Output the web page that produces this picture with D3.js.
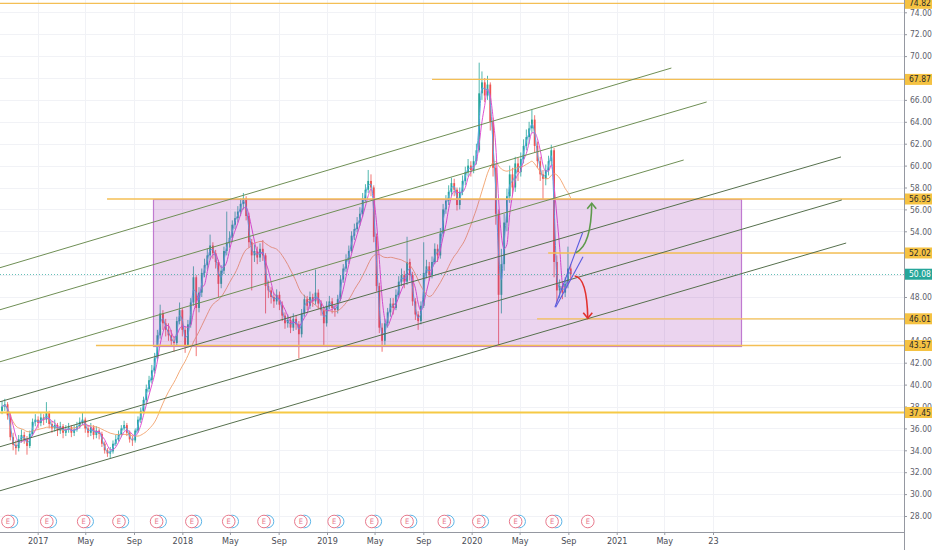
<!DOCTYPE html>
<html>
<head>
<meta charset="utf-8">
<script src="https://cdn.jsdelivr.net/npm/d3@7/dist/d3.min.js"></script>
<style>
  html, body { margin: 0; padding: 0; background: #fff; }
  svg { display: block; }
  text { font-family: "Liberation Sans Narrow", "DejaVu Sans Condensed", "Liberation Sans", sans-serif; }
</style>
</head>
<body>
<svg id="chart" width="932" height="550"></svg>
<script>
// weekly candles, first week starts on this monday
const firstWeek = "2016-10-03";

const open = [
  37.6, 38.0, 38.2, 37.2, 35.2, 34.5, 34.2, 35.0, 35.4, 35.0,
  34.4, 35.5, 36.6, 36.8, 36.5, 37.0, 36.8, 37.4, 36.4, 36.0,
  36.3, 35.8, 36.2, 35.6, 35.9, 36.1, 35.6, 35.9, 36.2, 36.6,
  36.8, 36.0, 35.6, 36.1, 35.4, 35.8, 35.5, 34.6, 34.0, 33.7,
  33.9, 34.6, 35.0, 35.4, 36.0, 36.3, 35.6, 35.0, 34.9, 35.8,
  36.8, 37.6, 38.6, 39.6, 40.4, 41.3, 42.4, 44.5, 46.5, 45.6,
  45.0, 44.5, 44.0, 43.8, 45.8, 46.8, 45.0, 43.6, 45.5, 47.5,
  49.8, 47.0, 48.4, 50.2, 50.9, 51.8, 52.7, 52.0, 51.2, 49.2,
  50.4, 52.2, 53.0, 53.4, 54.6, 55.2, 55.8, 56.5, 57.0, 55.4,
  53.0, 51.8, 52.2, 51.6, 52.4, 51.8, 49.0, 48.6, 48.0, 47.6,
  48.2, 47.3, 46.3, 45.6, 45.9, 45.2, 46.0, 45.5, 44.6, 46.5,
  47.8, 47.2, 48.0, 47.6, 48.4, 47.4, 46.8, 45.6, 47.2, 47.6,
  47.0, 46.8, 47.8, 49.6, 50.6, 51.4, 52.2, 53.6, 54.2, 54.8,
  55.6, 57.0, 57.8, 58.6, 58.0, 53.5, 49.0, 45.2, 44.0, 45.6,
  46.6, 47.4, 47.0, 48.2, 49.4, 50.0, 49.4, 51.2, 50.0, 47.6,
  46.4, 45.8, 47.2, 50.2, 50.8, 50.0, 51.2, 52.4, 51.8, 53.8,
  56.0, 56.8, 57.6, 58.4, 57.8, 56.4, 57.6, 58.6, 59.4, 60.0,
  59.6, 60.4, 61.4, 66.6, 67.6, 66.4, 67.4, 64.0, 59.8, 55.6,
  48.2, 51.0, 54.8, 57.2, 59.2, 58.0, 60.2, 59.4, 60.6, 61.8,
  62.6, 63.4, 64.2, 61.8, 60.4, 59.2, 58.8, 59.6, 60.4, 61.4,
  51.2, 48.6, 49.0, 48.4, 49.2, 50.6
];

const high = [
  38.5, 38.7, 38.4, 37.4, 35.6, 34.9, 35.4, 35.9, 35.7, 35.3,
  35.8, 36.9, 37.3, 37.1, 37.4, 37.3, 38.4, 37.6, 36.7, 36.8,
  36.5, 36.6, 36.4, 36.3, 36.5, 36.3, 36.3, 36.6, 37.0, 37.5,
  37.0, 36.3, 36.5, 36.3, 36.2, 36.0, 35.7, 34.8, 34.2, 34.3,
  34.9, 35.4, 35.8, 36.3, 36.7, 36.5, 35.8, 35.3, 36.0, 37.1,
  37.9, 38.9, 40.0, 40.8, 41.8, 42.9, 45.0, 47.3, 46.8, 46.0,
  45.6, 45.0, 44.4, 46.2, 47.5, 47.0, 45.3, 45.9, 47.9, 50.8,
  50.0, 48.9, 50.6, 51.5, 52.4, 53.7, 53.0, 52.3, 51.4, 50.9,
  52.6, 55.8, 54.0, 55.0, 55.8, 56.3, 57.0, 57.5, 57.2, 55.7,
  53.3, 52.8, 52.6, 52.9, 53.2, 52.0, 49.5, 48.9, 48.4, 48.7,
  48.5, 47.6, 46.6, 46.4, 46.2, 46.5, 46.3, 45.8, 46.9, 48.2,
  48.1, 48.5, 48.3, 50.5, 48.7, 47.7, 47.0, 47.6, 48.1, 47.9,
  47.3, 48.2, 50.0, 51.0, 51.9, 52.7, 54.0, 54.7, 55.3, 56.2,
  57.5, 58.3, 59.6, 59.2, 58.2, 53.8, 49.3, 45.6, 46.0, 47.0,
  47.9, 47.9, 48.7, 49.9, 50.6, 50.4, 53.5, 51.5, 50.3, 47.9,
  46.7, 47.6, 53.0, 51.4, 51.2, 51.7, 52.9, 52.8, 54.3, 56.5,
  57.3, 58.2, 58.9, 58.8, 58.0, 58.0, 59.1, 59.9, 60.6, 60.4,
  60.9, 62.0, 69.4, 68.6, 68.0, 68.2, 67.6, 64.4, 60.2, 56.0,
  52.4, 55.6, 57.9, 60.0, 59.8, 60.8, 60.7, 61.2, 62.4, 63.3,
  64.0, 65.1, 64.6, 62.2, 60.8, 59.6, 60.1, 60.9, 61.9, 61.6,
  51.8, 49.6, 49.4, 49.8, 52.6, 51.0
];

const low = [
  37.3, 37.6, 36.8, 34.9, 34.0, 33.6, 33.9, 34.7, 34.6, 33.6,
  34.2, 35.3, 36.2, 36.0, 36.2, 36.3, 36.5, 36.0, 35.6, 35.7,
  35.3, 35.5, 35.1, 35.3, 35.6, 35.2, 35.3, 35.7, 36.0, 36.3,
  35.6, 35.2, 35.3, 35.0, 35.1, 35.0, 34.3, 33.7, 33.4, 33.3,
  33.7, 34.4, 34.8, 35.2, 35.8, 35.3, 34.7, 34.4, 34.7, 35.6,
  36.5, 37.4, 38.3, 39.3, 40.1, 41.0, 42.2, 44.2, 45.0, 44.4,
  44.0, 43.5, 43.0, 43.6, 45.5, 44.4, 42.9, 43.4, 45.2, 47.2,
  42.6, 46.6, 48.0, 49.8, 50.5, 51.4, 51.5, 50.6, 48.0, 48.8,
  50.1, 51.8, 52.5, 53.0, 54.2, 54.8, 55.4, 56.0, 55.0, 52.5,
  48.6, 51.2, 51.0, 51.2, 51.3, 46.5, 47.9, 47.4, 47.0, 47.3,
  46.8, 45.8, 45.1, 45.2, 44.7, 44.9, 45.0, 42.4, 44.3, 46.2,
  46.8, 46.9, 47.1, 47.3, 46.9, 46.3, 43.6, 45.3, 46.9, 46.5,
  46.2, 46.5, 47.6, 49.3, 50.3, 51.0, 52.0, 53.2, 53.9, 54.5,
  55.3, 56.7, 57.5, 57.2, 53.0, 48.5, 44.7, 43.0, 43.6, 45.2,
  46.2, 46.4, 46.8, 47.9, 49.0, 48.8, 49.1, 49.5, 47.2, 45.9,
  45.0, 45.5, 47.0, 49.7, 49.5, 49.7, 51.0, 51.2, 51.5, 53.5,
  55.6, 56.4, 57.2, 57.2, 55.9, 56.0, 57.3, 58.2, 59.0, 59.0,
  59.3, 60.1, 61.2, 66.0, 65.8, 66.0, 63.2, 59.0, 54.6, 43.6,
  46.5, 50.4, 54.0, 56.6, 57.2, 57.6, 58.6, 59.0, 60.2, 61.4,
  62.0, 63.0, 61.2, 59.8, 58.6, 56.9, 58.2, 59.1, 60.0, 49.8,
  47.4, 47.9, 47.8, 48.0, 48.8, 49.6
];

const close = [
  38.0, 38.2, 37.2, 35.2, 34.5, 34.2, 35.0, 35.4, 35.0, 34.4,
  35.5, 36.6, 36.8, 36.5, 37.0, 36.8, 37.4, 36.4, 36.0, 36.3,
  35.8, 36.2, 35.6, 35.9, 36.1, 35.6, 35.9, 36.2, 36.6, 36.8,
  36.0, 35.6, 36.1, 35.4, 35.8, 35.5, 34.6, 34.0, 33.7, 33.9,
  34.6, 35.0, 35.4, 36.0, 36.3, 35.6, 35.0, 34.9, 35.8, 36.8,
  37.6, 38.6, 39.6, 40.4, 41.3, 42.4, 44.5, 46.5, 45.6, 45.0,
  44.5, 44.0, 43.8, 45.8, 46.8, 45.0, 43.6, 45.5, 47.5, 49.8,
  47.0, 48.4, 50.2, 50.9, 51.8, 52.7, 52.0, 51.2, 49.2, 50.4,
  52.2, 53.0, 53.4, 54.6, 55.2, 55.8, 56.5, 57.0, 55.4, 53.0,
  51.8, 52.2, 51.6, 52.4, 51.8, 49.0, 48.6, 48.0, 47.6, 48.2,
  47.3, 46.3, 45.6, 45.9, 45.2, 46.0, 45.5, 44.6, 46.5, 47.8,
  47.2, 48.0, 47.6, 48.4, 47.4, 46.8, 45.6, 47.2, 47.6, 47.0,
  46.8, 47.8, 49.6, 50.6, 51.4, 52.2, 53.6, 54.2, 54.8, 55.6,
  57.0, 57.8, 58.6, 58.0, 53.5, 49.0, 45.2, 44.0, 45.6, 46.6,
  47.4, 47.0, 48.2, 49.4, 50.0, 49.4, 51.2, 50.0, 47.6, 46.4,
  45.8, 47.2, 50.2, 50.8, 50.0, 51.2, 52.4, 51.8, 53.8, 56.0,
  56.8, 57.6, 58.4, 57.8, 56.4, 57.6, 58.6, 59.4, 60.0, 59.6,
  60.4, 61.4, 66.6, 67.6, 66.4, 67.4, 64.0, 59.8, 55.6, 48.2,
  51.0, 54.8, 57.2, 59.2, 58.0, 60.2, 59.4, 60.6, 61.8, 62.6,
  63.4, 64.2, 61.8, 60.4, 59.2, 58.8, 59.6, 60.4, 61.4, 51.2,
  48.6, 49.0, 48.4, 49.2, 50.6, 50.08
];

const lastPrice = 50.08;

// moving averages drawn on the chart (weeks) and their colours
const maPeriods = [20, 4, 2];
const maColors = ["#f2a06a", "#e052d2", "#5aa9e6"];

// horizontal levels
const levelPrices = [74.82, 67.87, 56.95, 52.02, 46.01, 43.57, 37.45];
const levelStarts = ["2016-09-10", "2019-09-23", "2017-06-25", "2020-07-12", "2020-06-14", "2017-05-28", "2016-09-10"];

// purple range box
const boxDates = ["2017-10-18", "2021-11-10"];
const boxPrices = [56.95, 43.57];

// trend channel lines
const channelStartDates = ["2016-09-28", "2016-09-28", "2016-09-28", "2016-09-28", "2016-09-28", "2016-09-28"];
const channelStartPrices = [50.65, 46.81, 42.06, 38.41, 34.30, 30.28];
const channelEndDates = ["2021-05-19", "2021-08-16", "2021-06-19", "2022-07-21", "2022-07-23", "2022-08-03"];
const channelEndPrices = [68.91, 65.81, 60.51, 60.79, 56.86, 52.93];

// rising wedge
const wedgeStartDates = ["2020-07-29", "2020-07-31"];
const wedgeStartPrices = [47.06, 47.06];
const wedgeEndDates = ["2020-10-07", "2020-10-08"];
const wedgeEndPrices = [53.87, 51.68];

// scenario arrows: start, bend, end
const arrowUpDates = ["2020-09-20", "2020-10-29", "2020-10-30"];
const arrowUpPrices = [52.05, 52.7, 56.56];
const arrowDownDates = ["2020-09-17", "2020-10-18", "2020-10-20"];
const arrowDownPrices = [49.92, 49.8, 46.05];

// earnings events
const earningsDates = [
  "2016-10-18", "2017-01-24", "2017-04-27", "2017-07-25", "2017-10-28", "2018-01-25",
  "2018-04-28", "2018-07-26", "2018-10-27", "2019-01-19", "2019-04-24", "2019-07-22",
  "2019-10-24", "2020-01-19", "2020-04-21", "2020-07-22", "2020-10-20"
];

// axis ticks
const xTickDates = [
  "2017-01-01", "2017-05-01", "2017-09-01", "2018-01-01", "2018-05-01", "2018-09-01",
  "2019-01-01", "2019-05-01", "2019-09-01", "2020-01-01", "2020-05-01", "2020-09-01",
  "2021-01-01", "2021-05-01", "2021-09-01"
];
const xTickLabels = ["2017", "May", "Sep", "2018", "May", "Sep", "2019", "May", "Sep", "2020", "May", "Sep", "2021", "May", "23"];
const yTicks = [28, 30, 32, 34, 36, 38, 40, 42, 44, 46, 48, 50, 52, 54, 56, 58, 60, 62, 64, 66, 68, 70, 72, 74];

/////////////////////////////////////////////////////////

const width = 932, height = 550;
const plotRight = 904, plotBottom = 532;
const parse = d3.timeParse("%Y-%m-%d");
const snap = v => Math.round(v) + 0.5;

const svg = d3.select("#chart");

const x = d3.scaleTime()
  .domain([parse("2017-01-01"), parse("2021-01-01")])
  .range([37.7, 616.7]);

const y = d3.scaleLinear()
  .domain([28, 74])
  .range([516, 12.3]);

const start = parse(firstWeek);
const weeks = d3.timeMonday.range(start, d3.timeMonday.offset(start, close.length));
const candles = close.map((c, i) => ({ date: weeks[i], o: open[i], h: high[i], l: low[i], c: c }));

svg.append("defs").append("clipPath").attr("id", "plot")
  .append("rect").attr("width", plotRight).attr("height", plotBottom);

// grid
const grid = svg.append("g").attr("stroke", "#f1f2f6").attr("stroke-width", 1);
grid.selectAll("line.h").data(yTicks).join("line")
  .attr("class", "h")
  .attr("x1", 0).attr("x2", plotRight)
  .attr("y1", d => snap(y(d))).attr("y2", d => snap(y(d)));
grid.selectAll("line.v").data(xTickDates).join("line")
  .attr("class", "v")
  .attr("y1", 0).attr("y2", plotBottom)
  .attr("x1", d => snap(x(parse(d)))).attr("x2", d => snap(x(parse(d))));

const plot = svg.append("g").attr("clip-path", "url(#plot)");

// candles
const bars = plot.append("g").selectAll("g.candle")
  .data(candles)
  .join("g")
  .attr("class", "candle")
  .attr("fill", d => d.c >= d.o ? "#26a69a" : "#ef5350")
  .attr("stroke", d => d.c >= d.o ? "#26a69a" : "#ef5350");

bars.append("line")
  .attr("x1", d => x(d.date)).attr("x2", d => x(d.date))
  .attr("y1", d => y(d.h)).attr("y2", d => y(d.l))
  .attr("stroke-width", 0.8);

bars.append("rect")
  .attr("x", d => x(d.date) - 0.9)
  .attr("width", 1.8)
  .attr("y", d => y(Math.max(d.o, d.c)))
  .attr("height", d => Math.max(0.8, Math.abs(y(d.o) - y(d.c))))
  .attr("stroke", "none");

// moving averages
maPeriods.forEach((n, k) => {
  const ma = close.map((c, i) => d3.mean(close.slice(Math.max(0, i - n + 1), i + 1)));
  plot.append("path")
    .datum(ma)
    .attr("fill", "none")
    .attr("stroke", maColors[k])
    .attr("stroke-width", k === 0 ? 0.9 : 1)
    .attr("d", d3.line().x((d, i) => x(weeks[i])).y(d => y(d)).curve(d3.curveMonotoneX));
});

// range box
plot.append("rect")
  .attr("x", snap(x(parse(boxDates[0]))))
  .attr("width", Math.round(x(parse(boxDates[1])) - x(parse(boxDates[0]))))
  .attr("y", snap(y(boxPrices[0])))
  .attr("height", Math.round(y(boxPrices[1]) - y(boxPrices[0])))
  .attr("fill", "rgba(156, 39, 176, 0.2)")
  .attr("stroke", "#c07ad0")
  .attr("stroke-width", 1.2);

// horizontal levels
plot.append("g").selectAll("line")
  .data(levelPrices)
  .join("line")
  .attr("x1", (d, i) => x(parse(levelStarts[i])))
  .attr("x2", plotRight)
  .attr("y1", d => y(d))
  .attr("y2", d => y(d))
  .attr("stroke", (d, i) => i === 6 ? "#f6c945" : "#f4bf55")
  .attr("stroke-width", (d, i) => i === 6 ? 2 : 1.3);

// channel lines
plot.append("g").selectAll("line")
  .data(channelStartPrices)
  .join("line")
  .attr("x1", (d, i) => x(parse(channelStartDates[i])) - 1)
  .attr("y1", d => y(d))
  .attr("x2", (d, i) => x(parse(channelEndDates[i])))
  .attr("y2", (d, i) => y(channelEndPrices[i]))
  .attr("stroke", (d, i) => i < 3 ? "#6f8f55" : "#56704d")
  .attr("stroke-width", 1);

// wedge
plot.append("g").selectAll("line")
  .data(wedgeStartPrices)
  .join("line")
  .attr("x1", (d, i) => x(parse(wedgeStartDates[i])))
  .attr("y1", d => y(d))
  .attr("x2", (d, i) => x(parse(wedgeEndDates[i])))
  .attr("y2", (d, i) => y(wedgeEndPrices[i]))
  .attr("stroke", "#5a5ce0")
  .attr("stroke-width", 1.1);

// arrows
function drawArrow(dates, prices, color, up) {
  const p = dates.map((d, i) => [x(parse(d)), y(prices[i])]);
  const path = d3.path();
  path.moveTo(p[0][0], p[0][1]);
  path.quadraticCurveTo(p[1][0], p[1][1], p[2][0], p[2][1]);
  plot.append("path").attr("d", path.toString())
    .attr("fill", "none").attr("stroke", color).attr("stroke-width", 1.6);
  const e = p[2], s = up ? 1 : -1;
  plot.append("path")
    .attr("d", `M${e[0] - 4.5},${e[1] + s * 5.5}L${e[0]},${e[1]}L${e[0] + 4.5},${e[1] + s * 5.5}`)
    .attr("fill", "none").attr("stroke", color).attr("stroke-width", 1.6);
}
drawArrow(arrowUpDates, arrowUpPrices, "#5e9a4c", true);
drawArrow(arrowDownDates, arrowDownPrices, "#e2312d", false);

// last price dotted line
plot.append("line")
  .attr("x1", 0).attr("x2", plotRight)
  .attr("y1", snap(y(lastPrice))).attr("y2", snap(y(lastPrice)))
  .attr("stroke", "#26a69a")
  .attr("stroke-opacity", 0.7)
  .attr("stroke-dasharray", "1,2");

// earnings markers
const ev = plot.append("g").selectAll("g")
  .data(earningsDates)
  .join("g")
  .attr("transform", d => `translate(${x(parse(d))},521.5)`);
ev.filter(d => parse(d) < weeks[weeks.length - 1])
  .append("circle")
  .attr("cx", 3.5).attr("r", 6.3)
  .attr("fill", "#fff").attr("stroke", "#5cb5e8").attr("stroke-width", 1);
ev.append("circle")
  .attr("r", 6.3)
  .attr("fill", "#fff").attr("stroke", "#e8798c").attr("stroke-width", 1);
ev.append("text")
  .attr("text-anchor", "middle").attr("dy", "0.35em")
  .attr("font-size", "7.5px").attr("fill", "#e8798c")
  .text("E");

// right axis
const yAxis = svg.append("g")
  .attr("class", "axis")
  .attr("transform", `translate(${plotRight},0)`)
  .call(d3.axisRight(y).tickValues(yTicks).tickFormat(d3.format(".2f")).tickSize(3).tickPadding(3));
yAxis.select(".domain").remove();
yAxis.selectAll("line").attr("stroke", "#9598a1");
yAxis.selectAll("text").attr("fill", "#5d606b").attr("font-size", "8.5px");

// bottom axis
const xAxis = svg.append("g")
  .attr("class", "axis")
  .attr("transform", `translate(0,${plotBottom})`)
  .call(d3.axisBottom(x)
    .tickValues(xTickDates.map(parse))
    .tickFormat((d, i) => xTickLabels[i])
    .tickSize(3).tickPadding(3));
xAxis.select(".domain").remove();
xAxis.selectAll("line").attr("stroke", "#9598a1");
xAxis.selectAll("text").attr("fill", "#4a4c55").attr("font-size", "9px");

svg.append("line")
  .attr("x1", 0).attr("x2", plotRight)
  .attr("y1", plotBottom + 0.5).attr("y2", plotBottom + 0.5)
  .attr("stroke", "#9598a1");
svg.append("line")
  .attr("x1", plotRight + 0.5).attr("x2", plotRight + 0.5)
  .attr("y1", 0).attr("y2", height)
  .attr("stroke", "#9598a1");

// price badges on the axis
const badgeData = levelPrices.map(p => ({ p: p, fill: "#f5c242", color: "#2a2a2a" }))
  .concat([{ p: lastPrice, fill: "#26a69a", color: "#ffffff" }]);
const badges = svg.append("g").selectAll("g")
  .data(badgeData)
  .join("g")
  .attr("transform", d => `translate(${plotRight + 1},${y(d.p)})`);
badges.append("rect")
  .attr("x", 0).attr("y", -5.5)
  .attr("width", width - plotRight - 1).attr("height", 11)
  .attr("fill", d => d.fill);
badges.append("text")
  .attr("x", 4).attr("dy", "0.35em")
  .attr("font-size", "8.5px")
  .attr("fill", d => d.color)
  .text(d => d3.format(".2f")(d.p));
</script>
</body>
</html>
